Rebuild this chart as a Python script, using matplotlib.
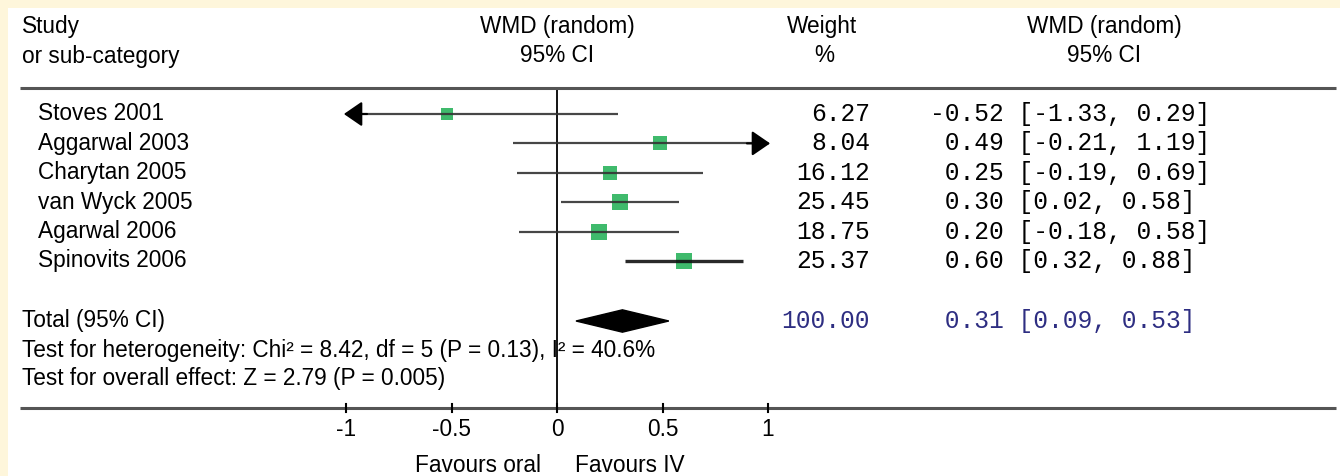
import matplotlib
matplotlib.use("Agg")
import matplotlib.pyplot as plt
from matplotlib.patches import Polygon

# ---------------- data ----------------
studies = ["Stoves 2001", "Aggarwal 2003", "Charytan 2005", "van Wyck 2005",
           "Agarwal 2006", "Spinovits 2006"]
weights = [6.27, 8.04, 16.12, 25.45, 18.75, 25.37]
est = [-0.52, 0.49, 0.25, 0.30, 0.20, 0.60]
ci_low = [-1.33, -0.21, -0.19, 0.02, -0.18, 0.32]
ci_high = [0.29, 1.19, 0.69, 0.58, 0.58, 0.88]
total_weight = 100.00
total_est = 0.31
total_low = 0.09
total_high = 0.53
het_text = "Test for heterogeneity: Chi\u00b2 = 8.42, df = 5 (P = 0.13), I\u00b2 = 40.6%"
overall_text = "Test for overall effect: Z = 2.79 (P = 0.005)"
xticks = [-1, -0.5, 0, 0.5, 1]
xtick_labels = ["-1", "-0.5", "0", "0.5", "1"]
favours_left = "Favours oral"
favours_right = "Favours IV"

# ---------------- layout helpers (pixel geometry) ----------------
W, H = 1340, 476
X0PX, UNIT = 557.0, 211.0      # pixel of x=0, pixels per unit
R0PX, ROWH = 114.0, 29.4       # pixel of first row, pixels per row

def X(px):
    return (px - X0PX) / UNIT

def Y(px):
    return (px - R0PX) / ROWH

SANS = "Liberation Sans"
MONO = "Liberation Mono"
FS = 16.3
FM = 17.7
GREEN = "#3fba6c"
NAVY = "#2e2e82"

fig = plt.figure(figsize=(W / 100, H / 100), dpi=100)
fig.patch.set_facecolor("#fef6db")
ax = fig.add_axes([8 / W, 0, (W - 8) / W, (H - 8) / H])
ax.set_facecolor("white")
ax.set_xlim(X(8), X(W))
ax.set_ylim(Y(H), Y(8))
ax.set_xticks([])
ax.set_yticks([])
for s in ax.spines.values():
    s.set_visible(False)

# headers
ax.text(X(22), Y(27), "Study", fontsize=FS, family=SANS, va="center", ha="left")
ax.text(X(22), Y(56), "or sub-category", fontsize=FS, family=SANS, va="center", ha="left")
ax.text(0, Y(27), "WMD (random)", fontsize=FS, family=SANS, va="center", ha="center")
ax.text(0, Y(56), "95% CI", fontsize=FS, family=SANS, va="center", ha="center")
ax.text(X(822), Y(27), "Weight", fontsize=FS, family=SANS, va="center", ha="center")
ax.text(X(824), Y(56), "%", fontsize=FS, family=SANS, va="center", ha="center")
ax.text(X(1104), Y(27), "WMD (random)", fontsize=FS, family=SANS, va="center", ha="center")
ax.text(X(1104), Y(56), "95% CI", fontsize=FS, family=SANS, va="center", ha="center")

# rules
rule_y = Y(88)
axis_y = Y(408)
ax.plot([X(20), X(1336)], [rule_y, rule_y], color="#555555", lw=2.2, solid_capstyle="butt")
ax.plot([X(20), X(1336)], [axis_y, axis_y], color="#555555", lw=2.2, solid_capstyle="butt")
ax.plot([0, 0], [rule_y, axis_y], color="black", lw=1.3, zorder=1)

# ticks
for t, lab in zip(xticks, xtick_labels):
    ax.plot([t, t], [axis_y - 0.12, axis_y + 0.12], color="black", lw=1.5)
    ax.text(t, Y(429), lab, fontsize=FS, family=SANS, va="center", ha="center")
ax.text(X(478), Y(466), favours_left, fontsize=FS, family=SANS, va="center", ha="center")
ax.text(X(630), Y(466), favours_right, fontsize=FS, family=SANS, va="center", ha="center")

lo_lim, hi_lim = xticks[0], xticks[-1]

# studies
for i, (name, w, e, lo, hi) in enumerate(zip(studies, weights, est, ci_low, ci_high)):
    y = i
    lw = 2.4 if i == len(studies) - 1 else 1.6
    col = "#111111" if i == len(studies) - 1 else "#333333"
    lo_c = max(lo, lo_lim)
    hi_c = min(hi, hi_lim)
    ax.plot([lo_c, hi_c], [y, y], color=col, lw=lw, solid_capstyle="butt", zorder=3, alpha=0.9)
    arrow_kw = dict(arrowstyle="-|>,head_length=0.8,head_width=0.55", color="black",
                    lw=1.5, shrinkA=0, shrinkB=0, mutation_scale=14)
    if lo < lo_lim:
        ax.annotate("", xy=(lo_lim - 0.01, y), xytext=(lo_lim + 0.1, y), arrowprops=arrow_kw, zorder=3)
    if hi > hi_lim:
        ax.annotate("", xy=(hi_lim + 0.01, y), xytext=(hi_lim - 0.1, y), arrowprops=arrow_kw, zorder=3)
    side_px = 11.5 + 0.2 * w
    ax.plot(e, y, marker="s", color=GREEN, markersize=side_px * 0.72, markeredgewidth=0, zorder=2)
    ax.text(X(38), y, name, fontsize=FS, family=SANS, va="center", ha="left")
    ax.text(X(870), y, f"{w:.2f}", fontsize=FM, family=MONO, va="center", ha="right")
    ax.text(X(930), y, f"{e:5.2f} [{lo:.2f}, {hi:.2f}]", fontsize=FM, family=MONO,
            va="center", ha="left")

# total
ty = Y(321)
dh = 0.38
diamond = Polygon([(total_low, ty), (total_est, ty - dh), (total_high, ty), (total_est, ty + dh)],
                  closed=True, facecolor="black", edgecolor="black", lw=1, zorder=4)
ax.add_patch(diamond)
ax.text(X(22), ty, "Total (95% CI)", fontsize=FS, family=SANS, va="center", ha="left")
ax.text(X(870), ty, f"{total_weight:.2f}", fontsize=FM, family=MONO, va="center", ha="right",
        color=NAVY)
ax.text(X(930), ty, f"{total_est:5.2f} [{total_low:.2f}, {total_high:.2f}]", fontsize=FM,
        family=MONO, va="center", ha="left", color=NAVY)
ax.text(X(22), Y(350), het_text, fontsize=FS, family=SANS, va="center", ha="left")
ax.text(X(22), Y(379), overall_text, fontsize=FS, family=SANS, va="center", ha="left")

fig.savefig("out.png", dpi=100, facecolor=fig.get_facecolor())
